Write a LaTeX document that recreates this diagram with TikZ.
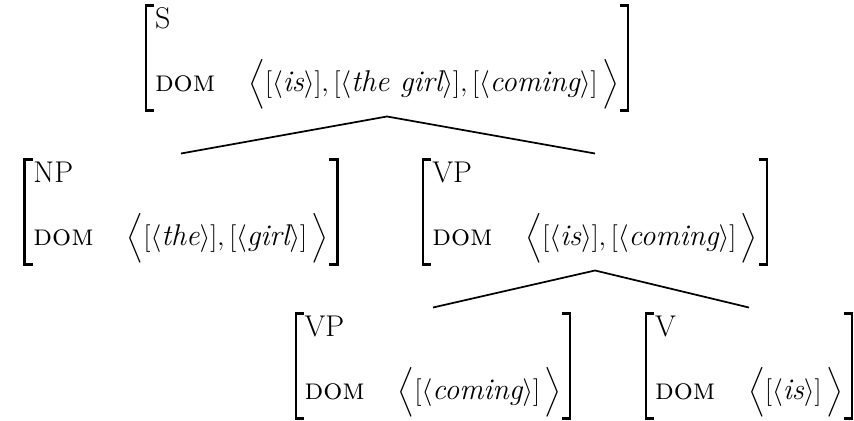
\documentclass[tikz,border=0pt]{standalone}
\usepackage{amsmath}
\usetikzlibrary{positioning}

\newcommand{\avmbox}[2]{$\begin{array}{@{}l@{\hspace{1.1em}}l@{}}
\text{#1} & \\[16pt]
\textsc{dom} & \Big\langle #2 \,\Big\rangle
\end{array}$}
\newcommand{\dw}[1]{[\langle\textit{#1}\rangle]}

\begin{document}
\begin{tikzpicture}[x=0.75pt, y=-0.75pt,
  avm/.style={inner xsep=6.5pt, inner ysep=0.5pt, font=\fontsize{22.5}{24}\selectfont},
  bracket/.style={line width=1.6pt},
  branch/.style={line width=1.3pt}]
\useasboundingbox (0,0) rectangle (854,421);
\node (S) [avm, at={(387,58)}] {\avmbox{S}{\dw{is},\dw{the girl},\dw{coming}}};
\node (NP) [avm, at={(181,212)}] {\avmbox{NP}{\dw{the},\dw{girl}}};
\node (VP) [avm, at={(595,212)}] {\avmbox{VP}{\dw{is},\dw{coming}}};
\node (VPc) [avm, at={(433,366)}] {\avmbox{VP}{\dw{coming}}};
\node (V) [avm, at={(749,366)}] {\avmbox{V}{\dw{is}}};
% square brackets round each feature structure
\foreach \n in {S,NP,VP,VPc,V} {
  \draw [bracket] ([xshift=6pt]\n.north west) -| (\n.south west) -- ([xshift=6pt]\n.south west);
  \draw [bracket] ([xshift=-6pt]\n.north east) -| (\n.south east) -- ([xshift=-6pt]\n.south east);
}
\draw [branch] ([yshift=4.5pt]NP.north) -- ([yshift=-4.5pt]S.south) -- ([yshift=4.5pt]VP.north);
\draw [branch] ([yshift=4.5pt]VPc.north) -- ([yshift=-4.5pt]VP.south) -- ([yshift=4.5pt]V.north);
\end{tikzpicture}
\end{document}
